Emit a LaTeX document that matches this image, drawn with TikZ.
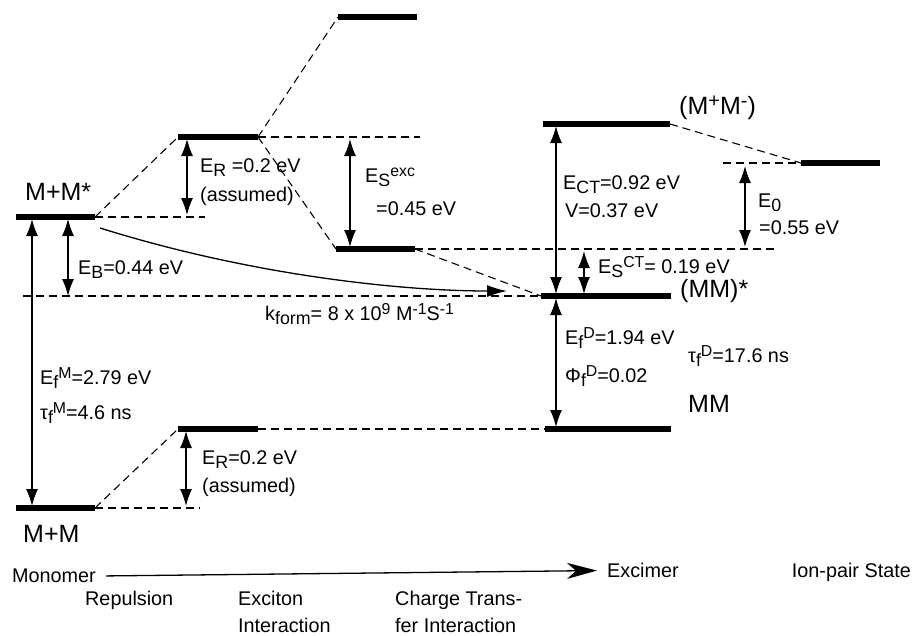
\documentclass[tikz,border=0pt]{standalone}
\usepackage{fontspec}
\usepackage{graphicx}
\setmainfont{Liberation Sans}
\usetikzlibrary{arrows.meta}
\newcommand{\dn}[1]{\raisebox{-0.4ex}{\scalebox{0.9}{#1}}}
\newcommand{\up}[1]{\raisebox{0.55ex}{\scalebox{0.8}{#1}}}

\begin{document}
\begin{tikzpicture}[
  x=1pt, y=-1pt,
  level/.style={line width=5.5pt},
  link/.style={dash pattern=on 8pt off 5pt, line width=1.1pt},
  gap/.style={{Latex[length=17pt,width=12pt]}-{Latex[length=17pt,width=12pt]}, line width=1.3pt},
  lbl/.style={anchor=mid west, inner sep=0pt, font=\fontsize{19.8}{23}\selectfont},
  state/.style={lbl, font=\fontsize{25}{28}\selectfont}
]
  \useasboundingbox (0,0) rectangle (913,635);

  % energy levels
  \foreach \n/\a/\b/\y in {mms/16/95/217, mm/16/95/508, repU/178/258/137, repL/178/258/429,
      excT/338/417/17, excB/336/415/249, ct/543/670/124, exm/541/671/296, dim/545/671/429, ion/801/880/163} {
    \coordinate (\n-l) at (\a,\y);
    \coordinate (\n-r) at (\b,\y);
    \draw[level] (\n-l) -- (\n-r);
  }

  % free ends of the dashed lines
  \coordinate (mmsD) at (205,217);
  \coordinate (repUD) at (420,137);
  \coordinate (excBD) at (778,249);
  \coordinate (baseD) at (23,296);
  \coordinate (mmD) at (200,508);
  \coordinate (ionD) at (723,163);

  \draw[link] (mms-r) -- (repU-l);
  \draw[link] (mms-r) -- (mmsD);
  \draw[link] (repU-r) -- (excT-l);
  \draw[link] (repU-r) -- (excB-l);
  \draw[link] (repU-r) -- (repUD);
  \draw[link] (excB-r) -- (excBD);
  \draw[link] (excB-r) -- (exm-l);
  \draw[link] (baseD) -- (exm-l);
  \draw[link] (mm-r) -- (repL-l);
  \draw[link] (mm-r) -- (mmD);
  \draw[link] (repL-r) -- (dim-l);
  \draw[link] (ct-r) -- (ion-l);
  \draw[link] (ionD) -- (ion-l);

  % energy gaps
  \foreach \n/\x/\a/\b in {fm/32/219/506, eb/68/219/296, erU/187/139/215, exc/350/139/247,
      erL/186/431/506, ect/556/126/294, esct/584/251/294, e0/745/166/247, fd/556/298/427} {
    \coordinate (\n-t) at (\x,\a);
    \coordinate (\n-b) at (\x,\b);
    \draw[gap] (\n-t) -- (\n-b);
  }

  % excimer formation
  \coordinate (kf-a) at (100,228);
  \coordinate (kf-b) at (507,291);
  \draw[line width=1.3pt, -{Latex[length=20pt,width=12pt]}] (kf-a) .. controls (250,275) and (400,291) .. (kf-b);

  % states
  \node[state] (mmsT) at (25,198) {M+M*};
  \node[state] (mmT) at (23,540) {M+M};
  \node[state] (ctT) at (679,112) {(M\up{+}M\up{-})};
  \node[state] (exmT) at (680,295) {(MM)*};
  \node[state] (dimT) at (688,410) {MM};

  % values
  \node[lbl] (erU1) at (200,170) {E\dn{R} =0.2 eV};
  \node[lbl] (erU2) at (200,199) {(assumed)};
  \node[lbl] (exc1) at (365,180) {E\dn{S}\up{exc}};
  \node[lbl] (exc2) at (376,213) {=0.45 eV};
  \node[lbl] (ebT) at (78,272) {E\dn{B}=0.44 eV};
  \node[lbl] (kfT) at (265,318) {k\dn{form}= 8 x 10\up{9} M\up{-1}S\up{-1}};
  \node[lbl] (fm1) at (40,382) {E\dn{f}\up{M}=2.79 eV};
  \node[lbl] (fm2) at (40,417) {τ\dn{f}\up{M}=4.6 ns};
  \node[lbl] (erL1) at (202,462) {E\dn{R}=0.2 eV};
  \node[lbl] (erL2) at (202,490) {(assumed)};
  \node[lbl] (ect1) at (563,187) {E\dn{CT}=0.92 eV};
  \node[lbl] (ect2) at (565,215) {V=0.37 eV};
  \node[lbl] (e01) at (758,205) {E\dn{0}};
  \node[lbl] (e02) at (759,232) {=0.55 eV};
  \node[lbl] (esct) at (598,271) {E\dn{S}\up{CT}= 0.19 eV};
  \node[lbl] (fd1) at (565,342) {E\dn{f}\up{D}=1.94 eV};
  \node[lbl] (fd2) at (565,380) {Φ\dn{f}\up{D}=0.02};
  \node[lbl] (fd3) at (688,360) {τ\dn{f}\up{D}=17.6 ns};

  % reaction coordinate
  \node[lbl] (mono) at (12,580) {Monomer};
  \node[lbl] (excim) at (607,575) {Excimer};
  \node[lbl, anchor=mid east] (ionT) at (911,575) {Ion-pair State};
  \node[lbl] (rep) at (85,603) {Repulsion};
  \node[lbl] (exi1) at (238,603) {Exciton};
  \node[lbl] (exi2) at (238,630) {Interaction};
  \node[lbl] (cti1) at (395,603) {Charge Trans-};
  \node[lbl] (cti2) at (395,630) {fer Interaction};
  \draw[line width=1.3pt, -{Stealth[length=30pt,width=16pt,inset=9pt]}] ([xshift=10pt]mono.east) -- ([xshift=-10pt]excim.west);
\end{tikzpicture}
\end{document}
